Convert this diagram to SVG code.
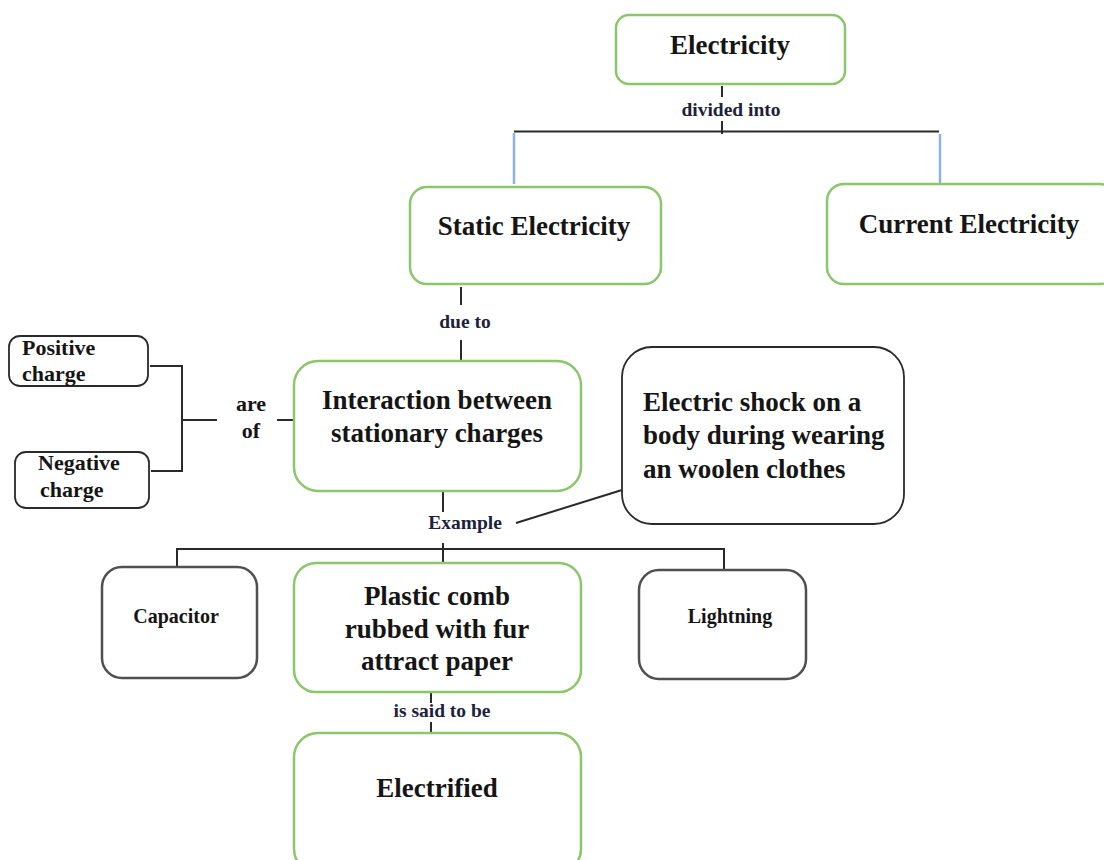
<svg xmlns="http://www.w3.org/2000/svg" width="1104" height="860" viewBox="0 0 1104 860">
  <style>
    .green { fill: #ffffff; stroke: #8cc66c; stroke-width: 2.5; }
    .dark { fill: #ffffff; stroke: #2a2a2a; stroke-width: 1.8; }
    .grey { fill: #ffffff; stroke: #505050; stroke-width: 2.5; }
    .t { font-family: "Liberation Serif", "Times New Roman", serif; font-weight: bold; fill: #151515; }
    .big { font-size: 27px; }
    .mid { font-size: 22px; }
    .sm { font-size: 20px; }
    .lbl { font-family: "Liberation Serif", "Times New Roman", serif; font-weight: bold; font-size: 19.5px; fill: #1d1f3c; }
    .ln { stroke: #2a2a2a; stroke-width: 2; fill: none; }
    .blue { stroke: #8fb2e2; stroke-width: 2.5; fill: none; }
  </style>

  <rect width="1104" height="860" fill="#ffffff"/>

  <!-- connectors -->
  <g id="connectors">
    <line class="ln" x1="722" y1="86" x2="722" y2="97"/>
    <line class="ln" x1="722" y1="121" x2="722" y2="134"/>
    <line class="ln" x1="514" y1="131.5" x2="939" y2="131.5"/>
    <line class="blue" x1="514" y1="133" x2="514" y2="184"/>
    <line class="blue" x1="940" y1="134" x2="940" y2="188"/>

    <line class="ln" x1="461" y1="287" x2="461" y2="305"/>
    <line class="ln" x1="461" y1="340" x2="461" y2="362"/>

    <line class="ln" x1="150" y1="366" x2="182" y2="366"/>
    <line class="ln" x1="182" y1="365" x2="182" y2="472"/>
    <line class="ln" x1="151" y1="471" x2="183" y2="471"/>
    <line class="ln" x1="182" y1="420" x2="217" y2="420"/>
    <line class="ln" x1="277" y1="420" x2="296" y2="420"/>

    <line class="ln" x1="443" y1="491" x2="443" y2="512"/>
    <line class="ln" x1="516" y1="523" x2="622" y2="490"/>
    <line class="ln" x1="443" y1="543" x2="443" y2="563"/>
    <line class="ln" x1="177" y1="549" x2="724" y2="549"/>
    <line class="ln" x1="177" y1="548" x2="177" y2="567"/>
    <line class="ln" x1="724" y1="548" x2="724" y2="570"/>

    <line class="ln" x1="431" y1="693" x2="431" y2="703"/>
    <line class="ln" x1="431" y1="722" x2="431" y2="737"/>

    <text class="lbl" x="731" y="116" text-anchor="middle">divided into</text>
    <text class="lbl" x="465" y="328" text-anchor="middle">due to</text>
    <text class="lbl" x="465" y="529" text-anchor="middle">Example</text>
    <text class="lbl" x="442" y="717" text-anchor="middle">is said to be</text>
    <text class="t mid" x="251" y="411" text-anchor="middle">are</text>
    <text class="t mid" x="251" y="438" text-anchor="middle">of</text>
  </g>

  <g id="electricity">
    <rect class="green" x="616" y="15" width="229" height="69" rx="13"/>
    <text class="t big" x="730" y="54" text-anchor="middle">Electricity</text>
  </g>

  <g id="static-electricity">
    <rect class="green" x="410" y="187" width="251" height="97" rx="17"/>
    <text class="t big" x="534" y="235" text-anchor="middle">Static Electricity</text>
  </g>

  <g id="current-electricity">
    <rect class="green" x="827" y="184" width="290" height="100" rx="17"/>
    <text class="t big" x="969" y="233" text-anchor="middle">Current Electricity</text>
  </g>

  <g id="interaction">
    <rect class="green" x="294" y="361" width="287" height="130" rx="24"/>
    <text class="t big" x="437" y="409" text-anchor="middle">Interaction between</text>
    <text class="t big" x="437" y="442" text-anchor="middle">stationary charges</text>
  </g>

  <g id="positive-charge">
    <rect class="dark" x="9" y="336" width="139" height="50" rx="11"/>
    <text class="t mid" x="22" y="355">Positive</text>
    <text class="t mid" x="22" y="381">charge</text>
  </g>

  <g id="negative-charge">
    <rect class="dark" x="15" y="452" width="134" height="56" rx="11"/>
    <text class="t mid" x="38" y="470">Negative</text>
    <text class="t mid" x="40" y="497">charge</text>
  </g>

  <g id="electric-shock">
    <rect class="dark" x="622" y="347" width="282" height="177" rx="30"/>
    <text class="t big" x="643" y="411">Electric shock on a</text>
    <text class="t big" x="643" y="444">body during wearing</text>
    <text class="t big" x="643" y="478">an woolen clothes</text>
  </g>

  <g id="capacitor">
    <rect class="grey" x="102" y="567" width="155" height="111" rx="20"/>
    <text class="t sm" x="176" y="623" text-anchor="middle">Capacitor</text>
  </g>

  <g id="plastic-comb">
    <rect class="green" x="294" y="563" width="287" height="129" rx="22"/>
    <text class="t big" x="437" y="605" text-anchor="middle">Plastic comb</text>
    <text class="t big" x="437" y="638" text-anchor="middle">rubbed with fur</text>
    <text class="t big" x="437" y="670" text-anchor="middle">attract paper</text>
  </g>

  <g id="lightning">
    <rect class="grey" x="639" y="570" width="167" height="109" rx="20"/>
    <text class="t sm" x="730" y="623" text-anchor="middle">Lightning</text>
  </g>

  <g id="electrified">
    <rect class="green" x="294" y="733" width="287" height="140" rx="24"/>
    <text class="t big" x="437" y="797" text-anchor="middle">Electrified</text>
  </g>
</svg>
